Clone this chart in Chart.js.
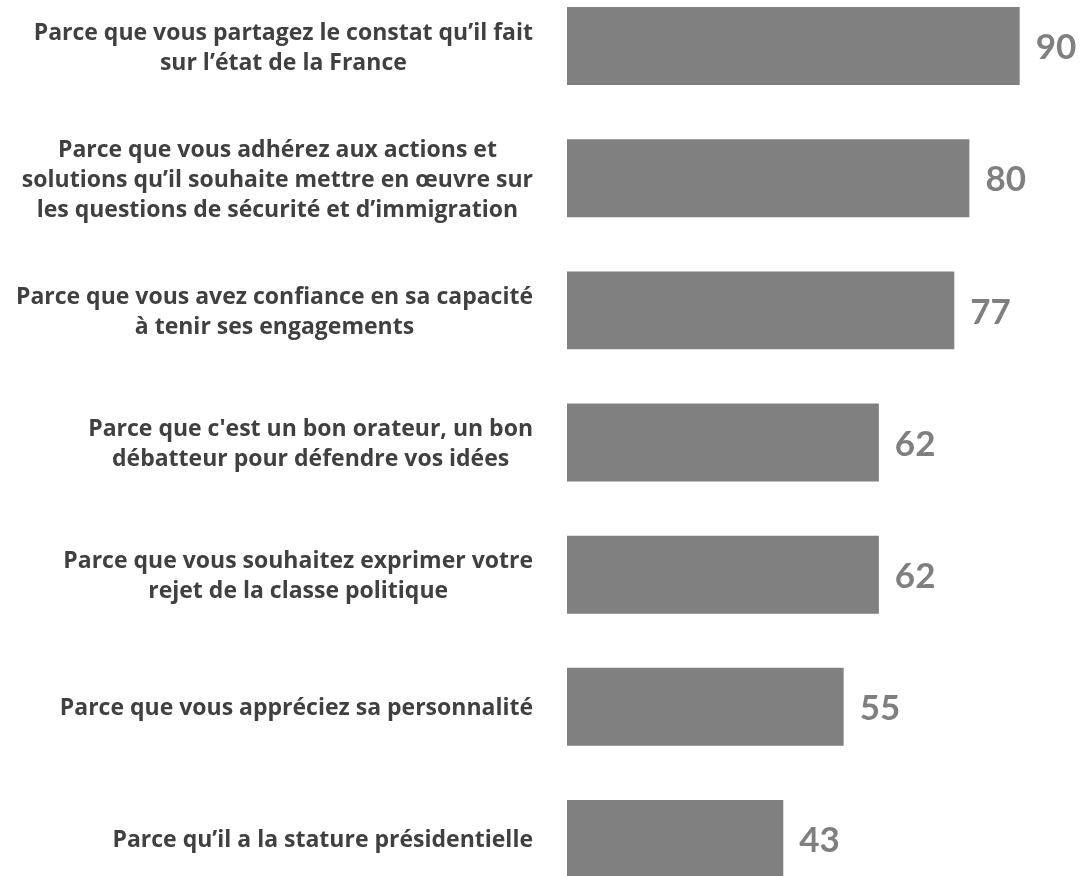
<!DOCTYPE html>
<html>
<head>
<meta charset="utf-8">
<script src="https://cdn.jsdelivr.net/npm/chart.js@4"></script>
<style>
  html, body { margin: 0; padding: 0; background: #fff; overflow: hidden; }
  #wrap { position: relative; width: 1080px; height: 925px; top: -20px; }
</style>
</head>
<body>
<div id="wrap"><canvas id="raisons"></canvas></div>
<script>
const categories = [
  ['Parce que vous partagez le constat qu’il fait', 'sur l’état de la France'],
  ['Parce que vous adhérez aux actions et', 'solutions qu’il souhaite mettre en œuvre sur', 'les questions de sécurité et d’immigration'],
  ['Parce que vous avez confiance en sa capacité', 'à tenir ses engagements'],
  ['Parce que c\'est un bon orateur, un bon', 'débatteur pour défendre vos idées'],
  ['Parce que vous souhaitez exprimer votre', 'rejet de la classe politique'],
  ['Parce que vous appréciez sa personnalité'],
  ['Parce qu’il a la stature présidentielle']
];
const values = [90, 80, 77, 62, 62, 55, 43];

const barColor = '#808080';
const labelColor = '#404040';
const valueColor = '#7f7f7f';
const labelFont = '"Open Sans", sans-serif';
const valueFont = 'Lato, "Open Sans", sans-serif';

// category text on the left + value next to each bar
const barText = {
  id: 'barText',
  afterDatasetsDraw(chart) {
    const ctx = chart.ctx;
    const yScale = chart.scales.y;
    const meta = chart.getDatasetMeta(0);
    const right = 533;
    const lineH = 30;
    ctx.save();
    ctx.textBaseline = 'middle';
    ctx.font = 'bold 23px ' + labelFont;
    ctx.fillStyle = labelColor;
    categories.forEach((lines, i) => {
      const y = yScale.getPixelForValue(i) + 2;
      const w = Math.max(...lines.map(l => ctx.measureText(l).width));
      const cx = right - w / 2;
      ctx.textAlign = 'center';
      lines.forEach((l, j) => {
        ctx.fillText(l, cx, y + (j - (lines.length - 1) / 2) * lineH);
      });
    });
    ctx.font = 'bold 35px ' + valueFont;
    ctx.fillStyle = valueColor;
    ctx.textAlign = 'left';
    meta.data.forEach((bar, i) => {
      ctx.fillText(String(values[i]), bar.x + 16, bar.y + 2);
    });
    ctx.restore();
  }
};

new Chart(document.getElementById('raisons'), {
  type: 'bar',
  data: {
    labels: categories,
    datasets: [{
      data: values,
      backgroundColor: barColor,
      categoryPercentage: 1,
      barPercentage: 0.59
    }]
  },
  options: {
    indexAxis: 'y',
    responsive: true,
    maintainAspectRatio: false,
    animation: false,
    layout: { padding: { left: 567, right: 10, top: 0, bottom: 0 } },
    scales: {
      x: { display: false, min: 0, max: 100 },
      y: { display: false }
    },
    plugins: {
      legend: { display: false },
      tooltip: { enabled: false }
    }
  },
  plugins: [barText]
});
</script>
</body>
</html>
